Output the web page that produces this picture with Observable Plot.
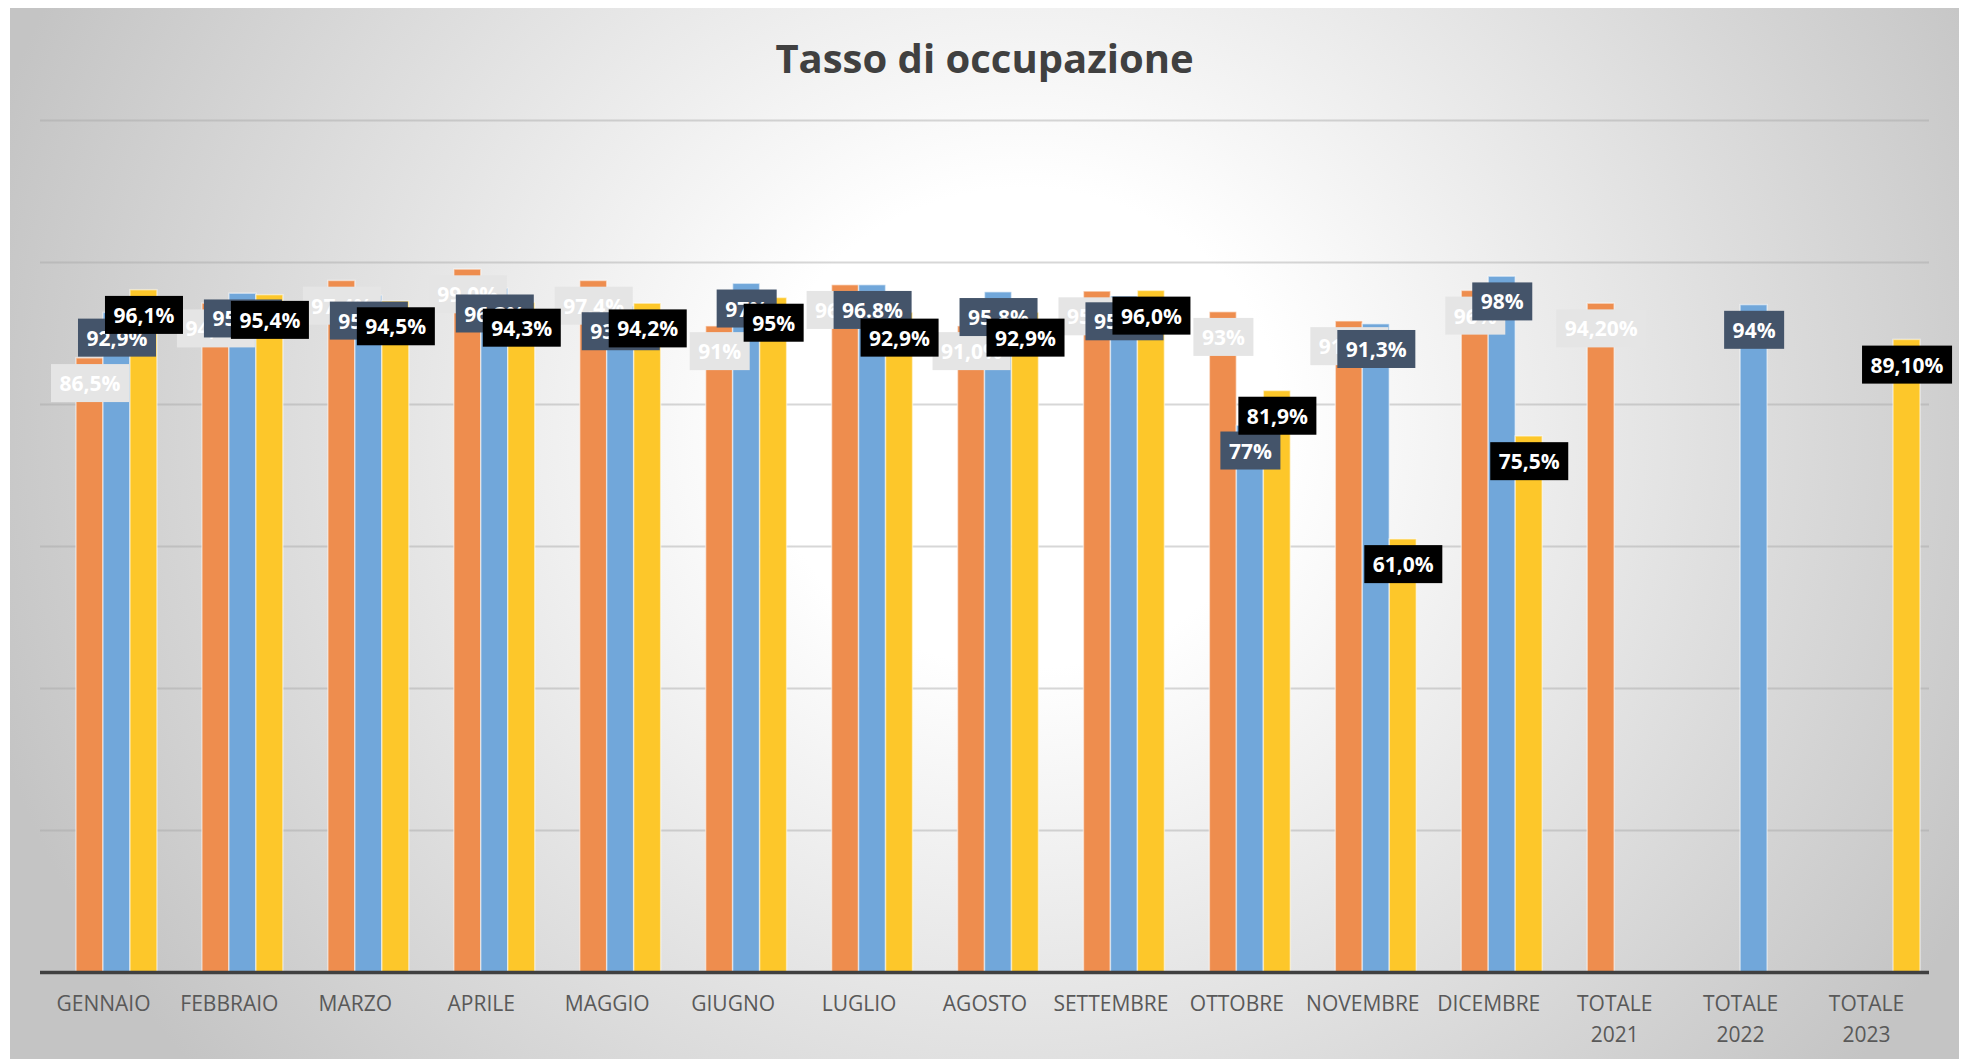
<!DOCTYPE html>
<html>
<head>
<meta charset="utf-8">
<script src="https://cdn.jsdelivr.net/npm/d3@7"></script>
<script src="https://cdn.jsdelivr.net/npm/@observablehq/plot@0.6"></script>
<style>
  html, body { margin: 0; padding: 0; background: #ffffff; }
  body { width: 1963px; height: 1059px; position: relative; overflow: hidden; }
  #chart {
    position: absolute; left: 10px; top: 8px; width: 1949px; height: 1051px;
    background: radial-gradient(ellipse 1080px 1000px at 52% 40%, #ffffff 0%, #ffffff 24%, #c4c4c4 100%);
  }
  #title {
    box-sizing: border-box; height: 92px; padding-top: 30px;
    font-family: "Open Sans", sans-serif; font-weight: 700; font-size: 40px; line-height: 1;
    color: #404040; text-align: center;
  }
  #plot svg { display: block; }
</style>
</head>
<body>
<div id="chart">
  <div id="title">Tasso di occupazione</div>
  <div id="plot"></div>
</div>
<script>
// ---- data ----
const categories = ["GENNAIO", "FEBBRAIO", "MARZO", "APRILE", "MAGGIO", "GIUGNO", "LUGLIO", "AGOSTO",
  "SETTEMBRE", "OTTOBRE", "NOVEMBRE", "DICEMBRE", "TOTALE\n2021", "TOTALE\n2022", "TOTALE\n2023"];
const years = ["2021", "2022", "2023"];
const values2021 = [86.5, 94.2, 97.4, 99.0, 97.4, 91.0, 96.8, 91.0, 95.9, 93.0, 91.7, 96.0, 94.2, null, null];
const values2022 = [92.9, 95.6, 95.3, 96.3, 93.8, 97.0, 96.8, 95.8, 95.2, 77.0, 91.3, 98.0, null, 94.0, null];
const values2023 = [96.1, 95.4, 94.5, 94.3, 94.2, 95.0, 92.9, 92.9, 96.0, 81.9, 61.0, 75.5, null, null, 89.1];
const labels2021 = ["86,5%", "94,2%", "97,4%", "99,0%", "97,4%", "91%", "96,8%", "91,0%", "95,9%", "93%", "91,7%", "96%", "94,20%", null, null];
const labels2022 = ["92,9%", "95,6%", "95,3%", "96,3%", "93,8%", "97%", "96.8%", "95,8%", "95,2%", "77%", "91,3%", "98%", null, "94%", null];
const labels2023 = ["96,1%", "95,4%", "94,5%", "94,3%", "94,2%", "95%", "92,9%", "92,9%", "96,0%", "81,9%", "61,0%", "75,5%", null, null, "89,10%"];
const gridTicks = [20, 40, 60, 80, 100, 120];

// ---- styles ----
const seriesColors = ["#EE8D4E", "#71A7DA", "#FDC72A"];
const boxColors = ["#E5E5E5", "#44546A", "#000000"];
const GAP = 0.667;     // Excel-like gap width (relative to a bar)
const SLOTS = 4;       // first slot is an empty series, as in the source workbook
const barW = 1 / (SLOTS + GAP);

const seriesValues = [values2021, values2022, values2023];
const seriesLabels = [labels2021, labels2022, labels2023];
const rows = [];
seriesValues.forEach((vals, s) => {
  vals.forEach((v, i) => {
    if (v == null) return;
    const x1 = i - 0.5 + GAP * barW / 2 + (s + 1) * barW;
    rows.push({i, s, year: years[s], value: v, label: seriesLabels[s][i], x1, x2: x1 + barW, xc: x1 + barW / 2});
  });
});

const labelMarks = years.map((y, s) =>
  Plot.text(rows.filter(d => d.s === s), {
    x: "xc", y: "value", text: "label", dy: 26,
    fill: "#ffffff", fontSize: 21, fontWeight: 700, fontFamily: "Open Sans",
    textAnchor: "middle", lineAnchor: "middle",
    ariaDescription: "lbl-" + s
  })
);

const plot = Plot.plot({
  width: 1949, height: 959,
  marginTop: 20, marginBottom: 87, marginLeft: 30, marginRight: 30,
  x: {domain: [-0.5, categories.length - 0.5], axis: null},
  y: {domain: [0, 120], axis: null},
  color: {domain: years, range: seriesColors},
  style: {background: "transparent", overflow: "visible", fontFamily: "Open Sans"},
  marks: [
    Plot.ruleY(gridTicks, {stroke: "#a6a6a6", strokeOpacity: 0.45, strokeWidth: 2}),
    Plot.rectY(rows, {x1: "x1", x2: "x2", y: "value", fill: "year", stroke: "#ffffff", strokeOpacity: 0.5, strokeWidth: 1.5}),
    Plot.ruleY([0], {stroke: "#404040", strokeWidth: 3.5}),
    ...labelMarks,
    Plot.text(categories, {
      x: (d, i) => i, y: () => 0, text: d => d, dy: 17, lineAnchor: "top", lineHeight: 1.46,
      fill: "#595959", fontSize: 21, fontFamily: "Open Sans"
    })
  ]
});
document.getElementById("plot").appendChild(plot);

function addBoxes() {
  const ns = "http://www.w3.org/2000/svg";
  boxColors.forEach((color, s) => {
    plot.querySelectorAll(`g[aria-description="lbl-${s}"] text`).forEach(t => {
      const b = t.getBBox();
      const padX = 8.5, h = 38;
      const cy = b.y + b.height / 2;
      const r = document.createElementNS(ns, "rect");
      r.setAttribute("x", b.x - padX);
      r.setAttribute("y", cy - h / 2);
      r.setAttribute("width", b.width + 2 * padX);
      r.setAttribute("height", h);
      r.setAttribute("fill", color);
      const tr = t.getAttribute("transform");
      if (tr) r.setAttribute("transform", tr);
      t.parentNode.insertBefore(r, t);
    });
  });
}
if (document.fonts && document.fonts.ready) document.fonts.ready.then(addBoxes); else addBoxes();
</script>
</body>
</html>
